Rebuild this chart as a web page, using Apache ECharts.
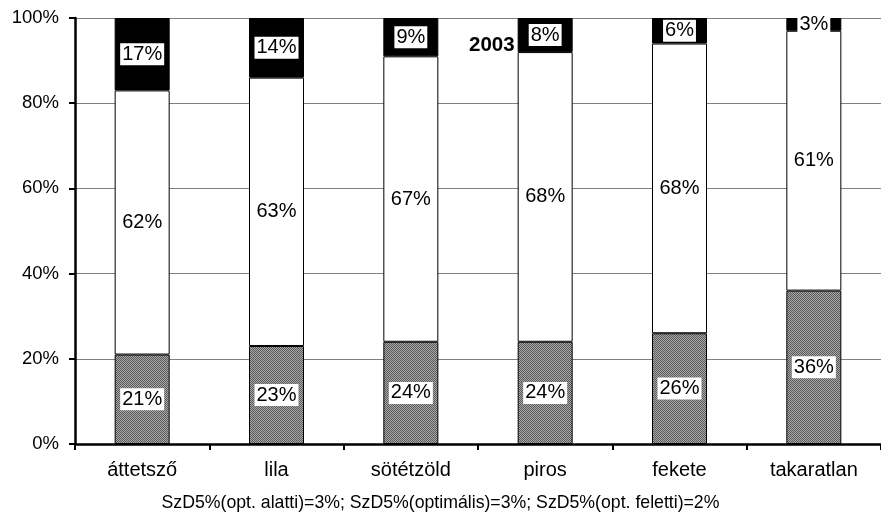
<!DOCTYPE html>
<html><head><meta charset="utf-8">
<script src="https://cdn.jsdelivr.net/npm/echarts@6/dist/echarts.min.js"></script>
<style>html,body{margin:0;padding:0;background:#fff;overflow:hidden}#c{width:881px;height:517px}</style>
</head><body><div id="c"></div>
<script>
const categories = ['áttetsző','lila','sötétzöld','piros','fekete','takaratlan'];
const below = [21,23,24,24,26,36];
const optimal = [62,63,67,68,68,61];
const above = [17,14,9,8,6,3];
const yTicks = ['0%','20%','40%','60%','80%','100%'];
const title = '2003';
const note = 'SzD5%(opt. alatti)=3%; SzD5%(optimális)=3%; SzD5%(opt. feletti)=2%';

const pc = document.createElement('canvas');
pc.width = 2; pc.height = 2;
const g = pc.getContext('2d');
g.fillStyle = '#a8a8a8'; g.fillRect(0,0,2,2);
g.fillStyle = '#5a5a5a'; g.fillRect(0,0,1,1); g.fillRect(1,1,1,1);

const font = 'Liberation Sans, Arial, sans-serif';
const lbl = {show:true, position:'inside', formatter: p => p.value + '%', color:'#000', backgroundColor:'#fff',
  fontFamily: font, fontSize: 20, lineHeight: 21, padding:[1,2,0,2]};
function s(name, data, color){
  return {name, type:'bar', stack:'a', data, barWidth:55,
    itemStyle:{color, borderColor:'#000', borderWidth:1}, label: lbl, emphasis:{disabled:true}};
}
const chart = echarts.init(document.getElementById('c'));
chart.setOption({
  animation:false,
  grid:{left:75, right:-12, top:18, bottom:73},
  title:[{text:title, left:469, top:35, padding:0, textStyle:{fontFamily:font, fontSize:20.5, fontWeight:'bold', color:'#000'}},
         {text:note, left:'center', top:489, textStyle:{fontFamily:font, fontSize:17.7, fontWeight:'normal', color:'#000'}}],
  xAxis:{type:'category', data:categories,
    axisLine:{lineStyle:{color:'#000', width:2.5}},
    axisTick:{show:true, alignWithLabel:false, length:6, lineStyle:{color:'#000', width:2}},
    axisLabel:{color:'#000', fontFamily:font, fontSize:20, margin:16}},
  yAxis:{type:'value', min:0, max:100, interval:20,
    axisLine:{show:true, lineStyle:{color:'#000', width:2.5}},
    axisTick:{show:true, length:6, lineStyle:{color:'#000', width:2}},
    axisLabel:{color:'#000', fontFamily:font, fontSize:18.5, margin:16, formatter: v => yTicks[v/20]},
    splitLine:{lineStyle:{color:'#808080', width:1}}},
  series:[
    s('alatti', below, {image: pc, repeat:'repeat'}),
    s('optimális', optimal, '#fff'),
    s('feletti', above, '#000')
  ]
});
</script></body></html>
